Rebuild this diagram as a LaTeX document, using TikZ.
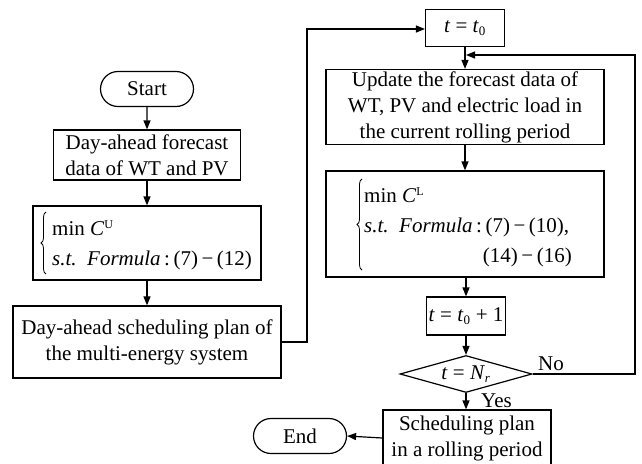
\documentclass[tikz,border=0pt]{standalone}
\usepackage{fontspec}
\setmainfont{Liberation Serif}
\usetikzlibrary{shapes.misc,shapes.geometric,arrows.meta,decorations.pathreplacing}
\newcommand{\smallsub}[1]{\textsubscript{\fontsize{13}{13}\selectfont #1}}
\newcommand{\smallsup}[1]{\textsuperscript{\fontsize{12}{12}\selectfont #1}}
\begin{document}
\begin{tikzpicture}[x=1pt,y=-1pt,
  every node/.style={font=\fontsize{21}{26}\selectfont, inner sep=0pt},
  box/.style={draw, line width=1.2pt, align=center},
  term/.style={draw, line width=1.2pt, rounded rectangle, minimum width=93pt, minimum height=35pt},
  dec/.style={draw, line width=1.2pt, diamond, aspect=3.6, minimum width=132pt, minimum height=37pt},
  conn/.style={line width=1.2pt, -{Triangle[length=9pt,width=7pt]}},
  brc/.style={decorate, decoration={brace, amplitude=5pt}, line width=0.8pt}]
\useasboundingbox (0,0) rectangle (642,463);
% left column
\node[term] (start) at (147,89) {Start};
\node[box, minimum width=187pt, minimum height=50pt] (fc) at (147,155) {Day-ahead forecast\\data of WT and PV};
\node[box, minimum width=228pt, minimum height=74pt] (f1) at (147,243) {};
\node[anchor=west] (f1a) at (52,228) {min \textit{C}\smallsup{U}};
\node[anchor=west] (f1b) at (52,260) {\textit{s.t.\ \ Formula}\,:\,(7)\,−\,(12)};
\coordinate (b1t) at (46,212);
\coordinate (b1b) at (46,274);
\draw[brc] (b1b) -- (b1t);
\node[box, minimum width=268pt, minimum height=72pt] (plan) at (147,342) {Day-ahead scheduling plan of\\the multi-energy system};
% right column
\node[box, minimum width=79pt, minimum height=37pt] (t0) at (465,28) {\textit{t} = \textit{t}\smallsub{0}};
\node[box, minimum width=278pt, minimum height=75pt] (upd) at (465,107) {Update the forecast data of\\WT, PV and electric load in\\the current rolling period};
\node[box, minimum width=278pt, minimum height=106pt] (f2) at (465,224) {};
\node[anchor=west] (f2a) at (364,195) {min \textit{C}\smallsup{L}};
\node[anchor=west] (f2b) at (364,227) {\textit{s.t.\ \ Formula}\,:\,(7)\,−\,(10),};
\node[anchor=east] (f2c) at (572,257) {(14)\,−\,(16)};
\coordinate (b2t) at (362,179);
\coordinate (b2b) at (362,270);
\draw[brc] (b2b) -- (b2t);
\node[box, minimum width=79pt, minimum height=38pt] (t1) at (466,316) {\textit{t} = \textit{t}\smallsub{0} + 1};
\node[dec] (d) at (466,374) {\textit{t} = \textit{N}\smallsub{\textit{r}}};
\node[box, minimum width=168pt, minimum height=56pt] (sp) at (467,438) {Scheduling plan\\in a rolling period};
\node[term] (end) at (300,436) {End};
\node[anchor=west] (yes) at (481,401) {Yes};
\node[anchor=west] (no) at (538,364) {No};
% connectors
\draw[conn] (start) -- (fc);
\draw[conn] (fc) -- (f1);
\draw[conn] (f1) -- (plan);
\coordinate (pa) at (307,342);
\coordinate (pb) at (307,29);
\draw[conn] (plan.east) -- (pa) -- (pb) -- (t0.west |- pb);
\draw[conn] (t0) -- (upd);
\draw[conn] (upd) -- (f2);
\draw[conn] (f2.south -| t1) -- (t1);
\draw[conn] (t1) -- (d);
\draw[conn] (d) -- (sp.north -| d);
\coordinate (na) at (635,374);
\coordinate (nb) at (635,55);
\coordinate (nc) at (466,55);
\draw[conn] (d.east) -- (na) -- (nb) -- (nc);
\draw[conn] (sp.west) -- (end.east);
\end{tikzpicture}
\end{document}
